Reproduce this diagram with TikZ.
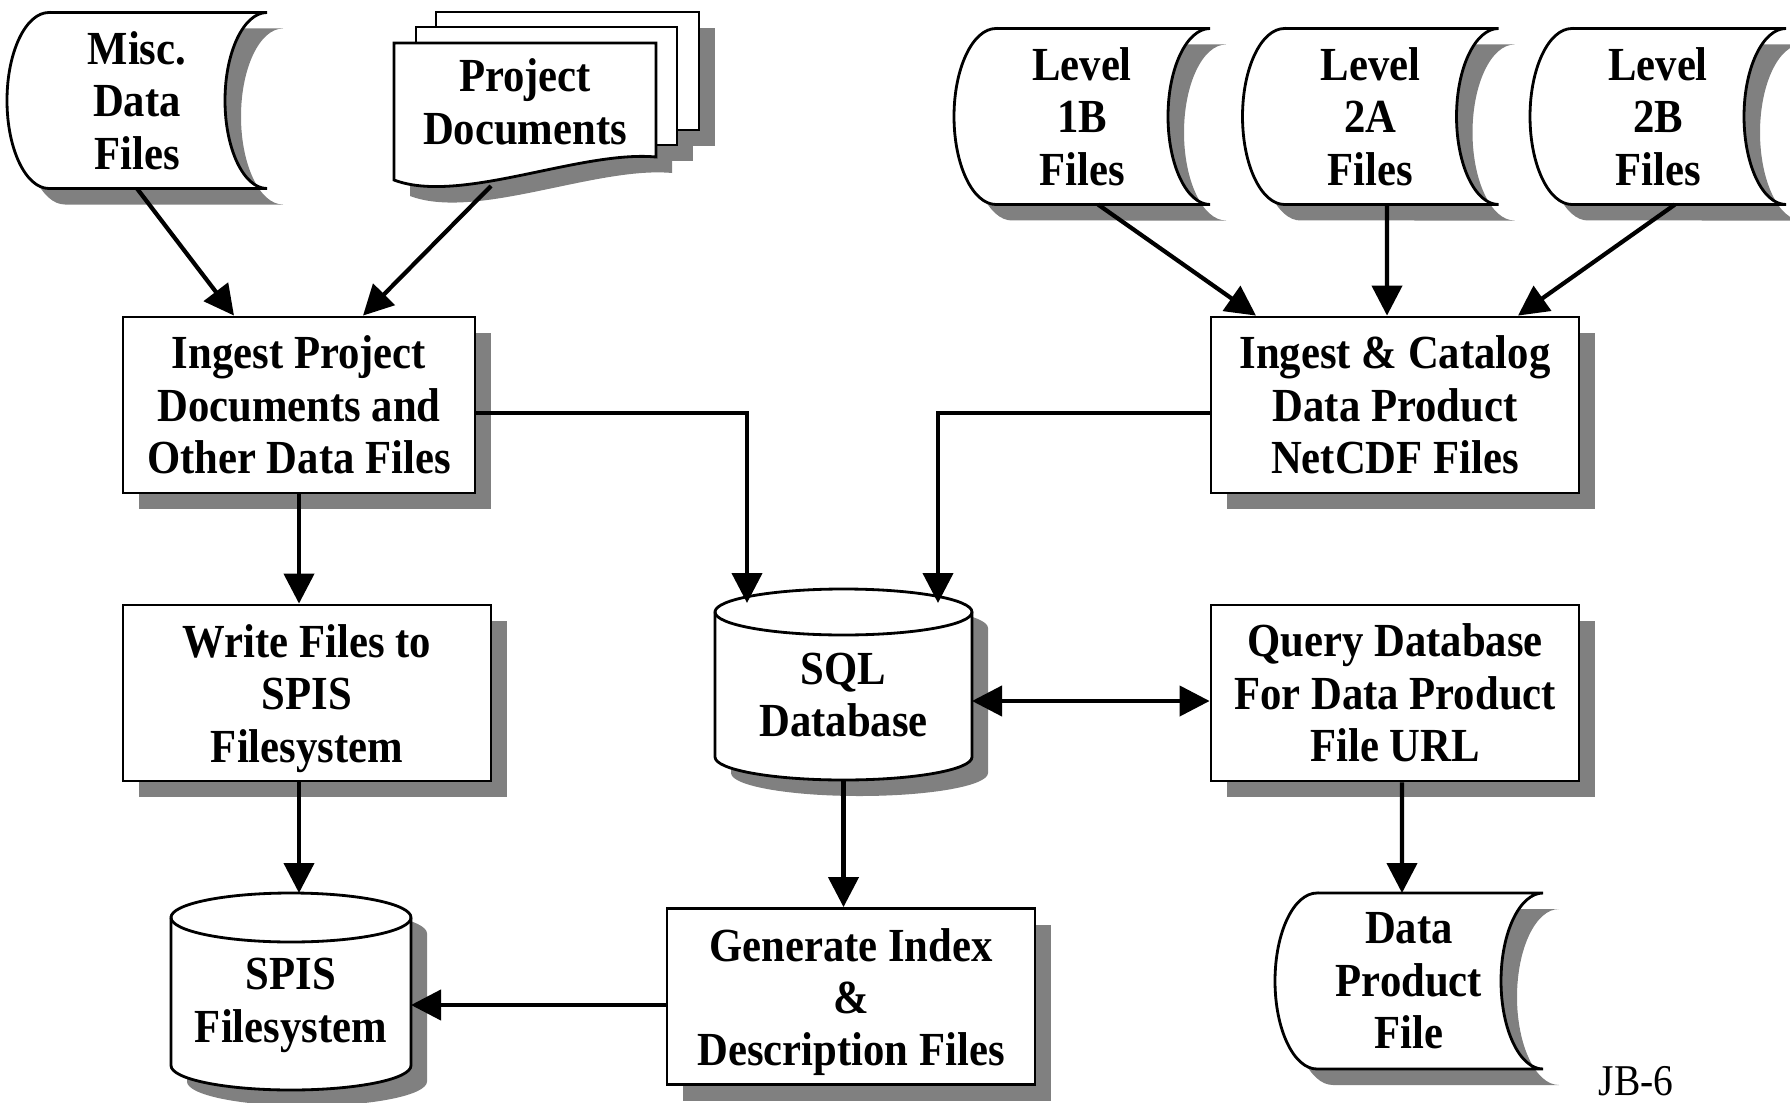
\documentclass[tikz,border=0pt]{standalone}
\usepackage{fontspec}
\setmainfont{Liberation Serif}[FakeStretch=0.9]
\usepackage{tikz}
\usetikzlibrary{arrows.meta,positioning,calc,shadows,backgrounds}

% outline of a stored-data symbol round a named node
\newcommand\storedpath[1]{($(#1.north west)+(0.42,0)$) -- (#1.north east)
  arc[start angle=90, end angle=270, x radius=0.42, y radius=0.88] -- ($(#1.south west)+(0.42,0)$)
  arc[start angle=270, end angle=90, x radius=0.42, y radius=0.88] -- cycle}
% outline of a drum round a named node: name, x radius, y radius
\newcommand\cylpath[3]{($(#1.north west)+(0,-#3)$) -- ($(#1.south west)+(0,#3)$)
  arc[start angle=180, end angle=360, x radius=#2, y radius=#3] -- ($(#1.north east)+(0,-#3)$)
  arc[start angle=0, end angle=180, x radius=#2, y radius=#3] -- cycle}

\begin{document}
\begin{tikzpicture}[
  box/.style={draw, line width=0.8pt, fill=white, align=center, inner sep=0pt,
    minimum width=3.68cm, minimum height=1.76cm, font=\bfseries\fontsize{13.5}{14.9}\selectfont,
    drop shadow={shadow xshift=0.16cm, shadow yshift=-0.16cm, fill=black!50, opacity=1}},
  store/.style={align=center, inner sep=0pt, outer sep=0pt, minimum height=1.76cm,
    font=\bfseries\fontsize{13.5}{14.9}\selectfont},
  shadowfill/.style={fill=black!50, transform canvas={xshift=0.16cm, yshift=-0.16cm}},
  edgefill/.style={draw, line width=0.8pt, fill=white},
  bigtip/.tip={Triangle[length=3mm, width=3mm]},
  arr/.style={-bigtip, line width=1.2pt},
  dbl/.style={bigtip-bigtip, line width=1.2pt}]
\useasboundingbox (0,0) rectangle (17.9,-11.03);
% inputs
\node[store, minimum width=2.60cm] (misc) at (1.37,-1.005) {Misc.\\Data\\Files};
\node[store, minimum width=2.62cm, minimum height=1.37cm] (proj) at (5.25,-1.115) {Project\\Documents\rule[-0.2cm]{0pt}{0.2cm}};
\node[store, minimum width=2.56cm] (l1b) at (10.82,-1.165) {Level\\1B\\Files};
\node[store, minimum width=2.56cm] (l2a) at (13.705,-1.165) {Level\\2A\\Files};
\node[store, minimum width=2.56cm] (l2b) at (16.58,-1.165) {Level\\2B\\Files};
% processes
\node[box, minimum width=3.52cm] (ingest) at (2.99,-4.05) {Ingest Project\\Documents and\\Other Data Files};
\node[box] (catalog) at (13.95,-4.05) {Ingest \& Catalog\\Data Product\\NetCDF Files};
\node[box] (write) at (3.07,-6.93) {\rule{0pt}{0.44cm}Write Files to\\SPIS\\Filesystem};
\node[box] (query) at (13.95,-6.93) {Query Database\\For Data Product\\File URL};
\node[box] (gen) at (8.51,-9.965) {\rule{0pt}{0.44cm}Generate Index\\\&\\Description Files};
% stores
\node[store, minimum width=2.57cm, minimum height=1.91cm] (sql) at (8.435,-6.845) {\rule{0pt}{0.53cm}SQL\\Database};
\node[store, minimum width=2.40cm, minimum height=1.97cm] (spis) at (2.91,-9.915) {\rule{0pt}{0.59cm}SPIS\\Filesystem};
\node[store, minimum width=2.68cm] (dpf) at (14.09,-9.81) {Data\\Product\\File};
\node[font=\fontsize{12.5}{14}\selectfont] (jb) at (16.36,-10.81) {JB-6};
\begin{scope}[on background layer]
  \foreach \n in {misc,l1b,l2a,l2b,dpf}{
    \fill[shadowfill] \storedpath{\n};
    \draw[edgefill] \storedpath{\n};}
  % stacked pages
  \fill[shadowfill] ($(proj.north west)+(0.42,0.31)$) rectangle ($(proj.north east)+(0.43,-0.87)$);
  \fill[shadowfill] ($(proj.north west)+(0.22,0.16)$) rectangle ($(proj.north east)+(0.21,-1.02)$);
  \fill[shadowfill] (proj.north west) -- (proj.north east) -- ($(proj.north east)+(0,-1.14)$)
    .. controls ($(proj.south west)+(1.86,0.30)$) and ($(proj.south west)+(0.66,-0.25)$) .. (proj.south west) -- cycle;
  \draw[edgefill] ($(proj.north west)+(0.42,0.31)$) rectangle ($(proj.north east)+(0.43,-0.87)$);
  \draw[edgefill] ($(proj.north west)+(0.22,0.16)$) rectangle ($(proj.north east)+(0.21,-1.02)$);
  \draw[edgefill] (proj.north west) -- (proj.north east) -- ($(proj.north east)+(0,-1.14)$)
    .. controls ($(proj.south west)+(1.86,0.30)$) and ($(proj.south west)+(0.66,-0.25)$) .. (proj.south west) -- cycle;
  % drums
  \fill[shadowfill] \cylpath{sql}{1.285}{0.23};
  \draw[edgefill] \cylpath{sql}{1.285}{0.23};
  \draw[line width=0.8pt] ($(sql.north west)+(0,-0.23)$) arc[start angle=180, end angle=360, x radius=1.285, y radius=0.23];
  \fill[shadowfill] \cylpath{spis}{1.2}{0.245};
  \draw[edgefill] \cylpath{spis}{1.2}{0.245};
  \draw[line width=0.8pt] ($(spis.north west)+(0,-0.245)$) arc[start angle=180, end angle=360, x radius=1.2, y radius=0.245];
\end{scope}
% flows
\draw[arr] (misc.south) -- ($(ingest.north)+(-0.65,0)$);
\draw[arr] ($(proj.south)+(-0.34,-0.06)$) -- ($(ingest.north)+(0.64,0)$);
\draw[arr] ($(l1b.south)+(0.16,0)$) -- ($(catalog.north)+(-1.39,0)$);
\draw[arr] ($(l2a.south)+(0.165,0)$) -- ($(catalog.north)+(-0.08,0)$);
\draw[arr] ($(l2b.south)+(0.17,0)$) -- ($(catalog.north)+(1.23,0)$);
\draw[arr] ($(ingest.east)+(0,-0.08)$) -| ($(sql.north)+(-0.965,-0.14)$);
\draw[arr] ($(catalog.west)+(0,-0.08)$) -| ($(sql.north)+(0.945,-0.14)$);
\draw[arr] (ingest.south) -- (ingest.south |- write.north);
\draw[arr] (ingest.south |- write.south) -- (ingest.south |- spis.north);
\draw[arr] (sql.south) -- (sql.south |- gen.north);
\coordinate (gw) at ($(gen.west)+(0,-0.085)$);
\draw[arr] (gw) -- (spis.east |- gw);
\coordinate (qw) at ($(query.west)+(0,-0.08)$);
\draw[dbl] (qw) -- (sql.east |- qw);
\draw[arr] ($(query.south)+(0.07,0)$) -- ($(dpf.north)+(-0.07,0)$);
\end{tikzpicture}
\end{document}
